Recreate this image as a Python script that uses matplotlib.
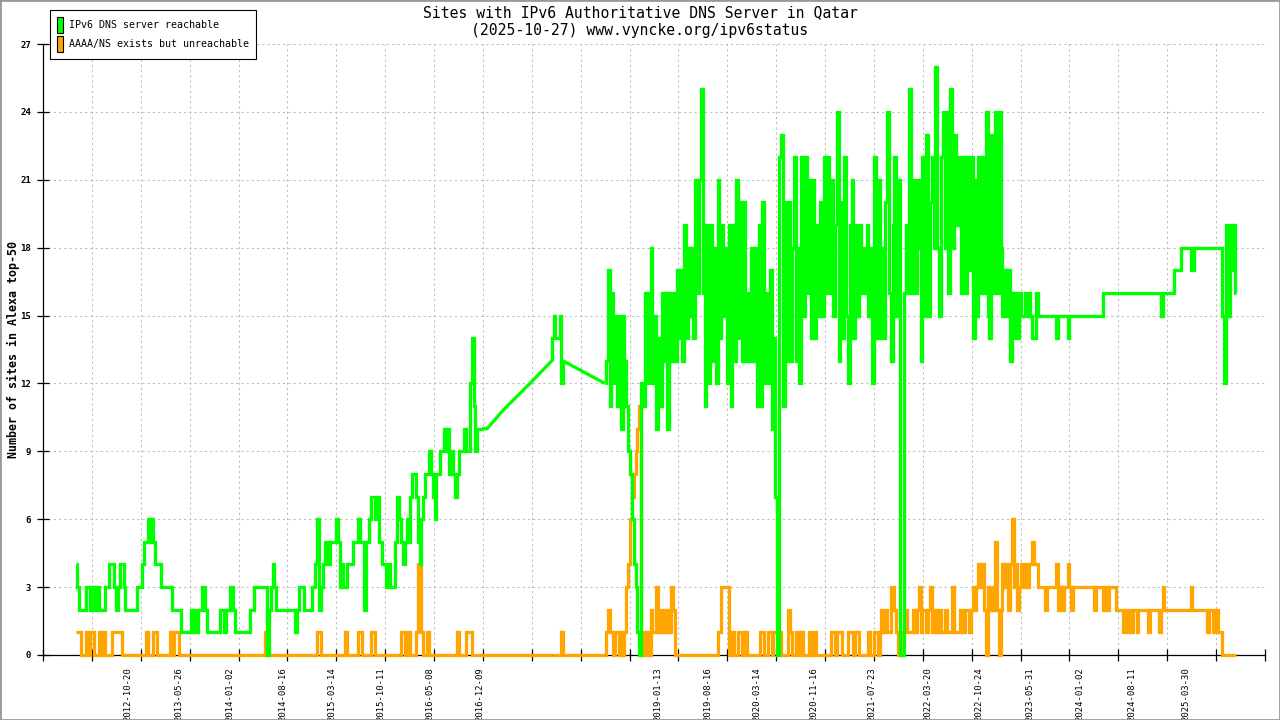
import numpy as np
import pandas as pd
import matplotlib
matplotlib.use("Agg")
import matplotlib.pyplot as plt
import matplotlib.dates as mdates
from matplotlib.ticker import FixedLocator, FixedFormatter, NullFormatter
from matplotlib.patches import Patch, Rectangle

# ---------------- data ----------------
title_lines = ["Sites with IPv6 Authoritative DNS Server in Qatar",
               "(2025-10-27) www.vyncke.org/ipv6status"]
series_names = ["IPv6 DNS server reachable", "AAAA/NS exists but unreachable"]
y_label = "Number of sites in Alexa top-50"
tick_dates = ["2012-10-20", "2013-05-26", "2014-01-02", "2014-08-16", "2015-03-14",
              "2015-10-11", "2016-05-08", "2016-12-09", "2019-01-13", "2019-08-16",
              "2020-03-14", "2020-11-16", "2021-07-23", "2022-03-20", "2022-10-24",
              "2023-05-31", "2024-01-02", "2024-08-11", "2025-03-30"]
y_ticks = [0, 3, 6, 9, 12, 15, 18, 21, 24, 27]

# segment 1: 2012-03 .. 2016-12, one sample every 8 days
seg1_start, seg1_step = "2012-03-11", 8
seg1_reachable = [
    4, 3, 2, 2, 2, 2, 3, 3, 2, 3, 2, 3, 3, 2, 2, 2, 3, 3, 4, 4,
    4, 3, 2, 3, 4, 4, 3, 2, 2, 2, 2, 2, 2, 3, 3, 3, 4, 5, 5, 6,
    5, 6, 5, 4, 4, 4, 3, 3, 3, 3, 3, 3, 2, 2, 2, 2, 2, 1, 1, 1,
    1, 1, 2, 1, 2, 1, 2, 2, 3, 3, 2, 1, 1, 1, 1, 1, 1, 1, 2, 2,
    1, 2, 2, 3, 3, 2, 1, 1, 1, 1, 1, 1, 1, 1, 2, 2, 3, 3, 3, 3,
    3, 3, 3, 0, 2, 3, 4, 3, 2, 2, 2, 2, 2, 2, 2, 2, 2, 2, 1, 2,
    3, 3, 3, 2, 2, 2, 2, 3, 3, 4, 6, 2, 3, 4, 5, 5, 4, 5, 5, 5,
    6, 5, 3, 4, 3, 3, 4, 4, 4, 5, 5, 5, 6, 5, 5, 2, 5, 5, 6, 7,
    7, 6, 7, 5, 5, 4, 4, 3, 4, 3, 3, 3, 5, 7, 6, 5, 4, 5, 6, 5,
    7, 8, 8, 7, 5, 4, 6, 7, 8, 8, 9, 8, 7, 6, 8, 8, 9, 9, 10, 9,
    10, 8, 9, 8, 7, 8, 9, 9, 9, 10, 9, 9, 12, 14, 11, 9, 10, 10, 10]
seg1_unreachable = (
    [1, 1, 1, 0, 0, 0, 1, 0, 1, 1, 0, 0, 0, 1, 0, 1, 0, 0, 0, 0,
     1, 1, 1, 1, 1, 0, 0, 0, 0, 0, 0, 0, 0, 0, 0, 0, 0, 0, 1, 0,
     0, 0, 1, 1, 0, 0, 0, 0, 0, 0, 0, 1, 0, 1, 1, 1, 0, 0, 0, 0]
    + [0] * 40
    + [0, 0, 1, 0, 0, 0, 0, 0, 0, 0]
    + [0] * 20
    + [1, 1, 0, 0, 0, 0, 0, 0, 0, 0, 0, 0, 0, 0, 0, 1, 0, 0, 0, 0,
       0, 0, 1, 1, 0, 0, 0, 0, 0, 1, 1, 0, 0, 0, 0, 0, 0, 0, 0, 0,
       0, 0, 0, 0, 0, 1, 1, 0, 1, 1, 0, 0, 0, 1, 4, 4, 1, 0, 0, 1]
    + [0] * 10
    + [0, 0, 0, 0, 0, 1, 0, 0, 0, 0, 1, 1, 1, 0, 0, 0, 0, 0, 0])

# sparse measurements during 2017
gap_dates = ["2017-01-10", "2017-03-18", "2017-07-13"]
gap_reachable = [10, 10.8, 12]
gap_unreachable = [0, 0, 0]

# segment 2: autumn 2017, one sample every 4 days
seg2_start, seg2_step = "2017-10-15", 4
seg2_reachable = [13, 14, 14, 15, 14, 14, 14, 14, 14, 15, 12, 12, 13]
seg2_unreachable = [0, 0, 0, 0, 0, 0, 0, 0, 0, 0, 1, 1, 0]

# segment 3: 2018-05 .. 2025-10, one sample every 8 days
seg3_start, seg3_step = "2018-05-31", 8
seg3_reachable = (
    [12, 13, 17, 11, 16, 12, 15, 11, 15, 10, 15, 13, 11, 9, 8, 6, 4, 3, 1, 0,
     12, 11, 16, 12, 16, 18, 12, 15, 10, 14, 11, 16, 13, 16, 10, 16, 13, 16, 13, 17,
     14, 17, 13, 19, 14, 18, 15, 18, 14, 21, 16, 21, 25, 16, 11, 19, 12, 19, 13, 18,
     12, 21, 14, 19, 15, 18, 12, 19, 11, 19, 13, 21, 14, 20, 13, 20, 13, 16, 13, 18,
     13, 18, 11, 19, 11, 20, 12, 16, 12, 17, 10, 14, 7, 0, 22, 23, 11, 20, 13, 20,
     13, 18, 22, 13, 18, 12, 22, 15, 22, 16, 21, 14, 21, 14, 19, 15, 20, 15, 22, 16,
     22, 16, 21, 15, 19, 24, 13, 20, 14, 22, 15, 12, 19, 21, 14, 19, 15, 19, 16, 18,
     16, 19, 15, 18, 12, 22, 14, 21, 14, 18, 14, 20, 24, 16, 13, 19, 22, 15, 21, 0,
     0, 16, 19, 16, 25, 16, 21, 16, 21, 18, 13, 22, 15, 23, 15, 20, 22, 18, 26, 18,
     15, 22, 24, 18, 24, 16, 25, 18, 23, 19, 22, 19, 16, 22, 16, 22, 17, 22, 14, 21,
     15, 22, 16, 22, 16, 24, 15, 14, 23, 16, 24, 16, 24, 18, 15, 17, 15, 17, 13, 16,
     14, 16, 14, 16, 15, 15, 16, 15, 16, 15, 14, 14, 16, 15]
    + [15] * 9 + [14] + [15] * 5 + [14] + [15] * 18 + [16] * 31 + [15] + [16] * 6
    + [17] * 4 + [18] * 5 + [17] * 2 + [18] * 15 + [15, 12, 19, 15, 19, 17, 19, 16])
seg3_unreachable = (
    [0, 1, 2, 1, 1, 0, 1, 1, 0, 1, 0, 1, 3, 4, 6, 7, 8, 9, 10, 11,
     0, 1, 0, 1, 0, 2, 1, 1, 3, 1, 2, 1, 2, 1, 2, 1, 3, 2, 0]
    + [0] * 21
    + [0, 1, 1, 3, 3, 3, 3, 0, 1, 1, 0, 0, 1, 1, 0, 0, 1, 0, 0, 0,
       0, 0, 0, 0, 1, 1, 0, 0, 1, 1, 0, 1, 1, 1, 1, 0, 0, 0, 0, 2,
       1, 0, 0, 1, 1, 0, 1, 0, 0, 0, 1, 0, 0, 1, 0, 0, 0, 0, 0, 0,
       0, 0, 1, 1, 0, 1, 1, 1, 0, 0, 0, 1, 1, 1, 0, 1, 1, 0, 0, 0,
       0, 0, 1, 0, 0, 1, 1, 0, 1, 2, 1, 2, 1, 1, 3, 3, 2, 1, 0, 0,
       1, 2, 2, 1, 1, 1, 2, 1, 2, 3, 1, 2, 2, 1, 2, 3, 1, 2, 2, 1,
       2, 1, 1, 2, 1, 1, 1, 3, 1, 1, 1, 2, 2, 1, 2, 2, 1, 2, 3, 2,
       3, 4, 3, 4, 2, 0, 3, 2, 3, 2, 5, 2, 0, 2, 4, 3, 4, 2, 4, 6,
       3, 4, 2, 3, 4, 3, 4, 3, 4, 4, 5, 4, 4, 3, 3, 3, 3, 2, 3, 3,
       3, 3, 3, 4, 2, 3, 2, 3, 3, 4, 3, 2]
    + [3] * 11 + [2] + [3] * 4 + [2, 3, 2] + [3] * 4 + [2] * 4
    + [1, 2, 1, 2, 1, 2, 2, 1] + [2] * 5 + [1] + [2] * 5 + [1, 2, 3] + [2] * 14
    + [3] + [2] * 8 + [1, 2, 2, 1, 2, 2, 1, 1] + [0] * 8)

# axis scale: 25 grid intervals of 210 days
axis_start, grid_step_days, grid_count = "2011-10-21", 210, 25


# ---------------- helpers ----------------
def to_num(dates):
    return mdates.date2num(pd.to_datetime(list(dates)).to_pydatetime())


def seg_dates(start, step, n):
    return to_num(pd.Timestamp(start) + pd.to_timedelta(np.arange(n) * step, unit="D"))


GREEN = "#00ff00"
ORANGE = "#ffa500"
MONO = "DejaVu Sans Mono"
plt.rcParams["font.family"] = [MONO, "DejaVu Sans"]

fig = plt.figure(figsize=(12.8, 7.2), dpi=100)
fig.patch.set_facecolor("white")
ax = fig.add_axes([43 / 1280, 65 / 720, 1222 / 1280, 611 / 720])

LW = 2.35
style = dict(lw=LW, clip_on=False, solid_joinstyle="miter", solid_capstyle="butt")


def draw(v1, vg, v2, v3, color, z):
    x1 = seg_dates(seg1_start, seg1_step, len(v1))
    xg = to_num(gap_dates[:len(vg)])
    x2 = seg_dates(seg2_start, seg2_step, len(v2))
    x3 = seg_dates(seg3_start, seg3_step, len(v3))
    # densely measured periods: step shaped (daily values)
    for xs, vs in ((x1, v1), (x2, v2), (x3, v3)):
        ax.plot(xs, vs, color=color, drawstyle="steps-mid", zorder=z, **style)
    # sparse periods: straight connections between measurements
    cx = [x1[-1]] + list(xg) + [x2[0]]
    cy = [v1[-1]] + list(vg) + [v2[0]]
    ax.plot(cx, cy, color=color, zorder=z, **style)
    ax.plot([x2[-1], x3[0]], [v2[-1], v3[0]], color=color, zorder=z, **style)


draw(seg1_unreachable, gap_unreachable, seg2_unreachable, seg3_unreachable, ORANGE, 3)
draw(seg1_reachable, gap_reachable, seg2_reachable, seg3_reachable, GREEN, 4)

# x axis
x0 = pd.Timestamp(axis_start)
major_num = to_num([x0 + pd.Timedelta(days=grid_step_days * k) for k in range(grid_count + 1)])
ax.set_xlim(major_num[0], major_num[-1])
ax.xaxis.set_major_locator(FixedLocator(major_num))
ax.xaxis.set_major_formatter(NullFormatter())
ax.xaxis.set_minor_locator(FixedLocator(to_num(tick_dates)))
ax.xaxis.set_minor_formatter(FixedFormatter(tick_dates))
ax.tick_params(axis="x", which="major", direction="inout", length=8, width=0.9, color="black")
ax.tick_params(axis="x", which="minor", length=0, pad=8.5, labelsize=6.4, labelrotation=90)

# y axis
ax.set_ylim(0, 27)
ax.set_yticks(y_ticks)
ax.set_yticklabels([str(t) for t in y_ticks])
ax.tick_params(axis="y", which="major", direction="inout", length=8, width=0.9,
               labelsize=6.5, pad=4.5)
for lbl in ax.get_yticklabels():
    lbl.set_fontweight("bold")

ax.grid(True, which="major", color="#bbbbbb", lw=0.75, linestyle=(0, (2.0, 3.0)))
ax.set_axisbelow(True)
for s in ("top", "right"):
    ax.spines[s].set_visible(False)
for s in ("left", "bottom"):
    ax.spines[s].set_color("black")
    ax.spines[s].set_linewidth(0.9)

# titles and label
fig.text(0.5, 1 - 13 / 720, title_lines[0], ha="center", va="center", fontsize=10.6)
fig.text(0.5, 1 - 31 / 720, title_lines[1], ha="center", va="center", fontsize=10.6)
fig.text(13 / 1280, 1 - 349.5 / 720, y_label, rotation=90, ha="center", va="center",
         fontsize=8.4, fontweight="bold")

# legend
handles = [Patch(facecolor=GREEN, edgecolor="black", lw=0.8),
           Patch(facecolor=ORANGE, edgecolor="black", lw=0.8)]
leg = fig.legend(handles=handles, labels=series_names, loc="upper left",
                 bbox_to_anchor=(50 / 1280, 1 - 10 / 720), fontsize=7.2,
                 handlelength=0.6, handleheight=2.1, handletextpad=0.6,
                 labelspacing=0.25, borderpad=0.7, borderaxespad=0,
                 frameon=True, fancybox=False, edgecolor="black", framealpha=1)
leg.get_frame().set_linewidth(0.8)

# outer border
fig.add_artist(Rectangle((0, 0), 1, 1, transform=fig.transFigure, fill=False,
                         edgecolor="#999999", lw=2))

fig.savefig("out.png", dpi=100, facecolor="white")
